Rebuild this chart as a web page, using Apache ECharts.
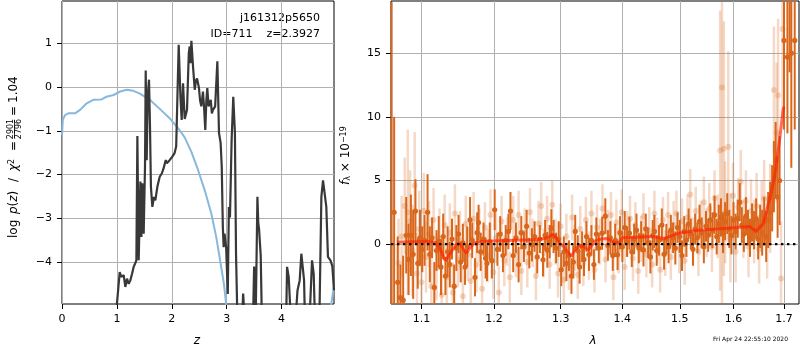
<!DOCTYPE html>
<html>
<head>
<meta charset="utf-8">
<script src="https://cdn.jsdelivr.net/npm/echarts@6/dist/echarts.min.js"></script>
<style>
html, body { margin: 0; padding: 0; background: #fff; }
#main { width: 800px; height: 350px; }
</style>
</head>
<body>
<div id="main"></div>
<script>
// left panel: redshift probability
const zTicks = [0, 1, 2, 3, 4];
const logpTicks = [-4, -3, -2, -1, 0, 1];
const pzCurve = [
  [0.97, -5.4], [1.051, -4.23], [1.08, -4.34], [1.124, -4.3], [1.154, -4.57], [1.184, -4.38],
  [1.215, -4.5], [1.245, -4.42], [1.276, -4.27], [1.306, -4.11], [1.33, -4.04], [1.355, -3.96],
  [1.373, -1.12], [1.397, -3.96], [1.428, -2.16], [1.446, -3.43], [1.464, -2.2], [1.488, -3.35],
  [1.512, -1.82], [1.525, 0.38], [1.543, -1.67], [1.561, -0.21], [1.585, 0.17], [1.603, -0.9],
  [1.62, -2.28], [1.646, -2.74], [1.676, -2.51], [1.70, -2.59], [1.737, -2.28], [1.78, -2.05],
  [1.82, -1.97], [1.85, -1.86], [1.89, -1.67], [1.91, -1.74], [1.96, -1.67], [2.01, -1.59],
  [2.05, -1.51], [2.08, -1.36], [2.107, 0.01], [2.126, 0.97], [2.157, -0.21], [2.18, -0.75],
  [2.205, 0.09], [2.235, -0.73], [2.277, -0.52], [2.31, 0.78], [2.326, 0.93], [2.34, 0.55],
  [2.357, 1.06], [2.387, 0.47], [2.418, -0.06], [2.44, 0.15], [2.46, 0.2], [2.495, -0.02],
  [2.515, -0.3], [2.538, -0.44], [2.568, -0.1], [2.59, -0.5], [2.61, -0.98], [2.63, -0.3],
  [2.647, -0.02], [2.67, -0.44], [2.71, -0.29], [2.73, -0.6], [2.75, -0.52], [2.79, -0.44],
  [2.83, 0.59], [2.86, -1.05], [2.89, -1.28], [2.91, -1.82], [2.93, -3.2], [2.945, -3.66],
  [2.96, -3.35], [2.99, -3.66], [3.02, -4.73], [3.04, -2.74], [3.06, -2.98], [3.09, -1.21],
  [3.12, -0.22], [3.15, -1.05], [3.17, -3.8], [3.2, -5.6], [3.27, -5.6], [3.30, -4.72],
  [3.34, -5.6], [3.475, -5.6], [3.50, -4.1], [3.525, -5.6], [3.56, -2.51], [3.575, -3.1],
  [3.59, -3.25], [3.62, -3.85], [3.645, -5.6], [4.08, -5.6], [4.10, -4.11], [4.13, -4.34],
  [4.18, -5.6], [4.24, -5.6], [4.29, -4.65], [4.33, -4.42], [4.36, -3.81], [4.39, -3.81],
  [4.41, -4.42], [4.43, -5.6], [4.5, -5.6], [4.555, -3.96], [4.585, -4.27], [4.615, -5.6],
  [4.685, -5.6], [4.725, -2.51], [4.755, -2.13], [4.785, -2.17], [4.815, -2.74], [4.845, -3.88],
  [4.89, -3.96], [4.925, -4.1], [4.955, -4.65]
];
const priorCurve = [
  [0, -1.1], [0.015, -0.75], [0.055, -0.64], [0.116, -0.6], [0.237, -0.6], [0.33, -0.52],
  [0.45, -0.37], [0.57, -0.29], [0.72, -0.28], [0.81, -0.22], [0.94, -0.18], [1.06, -0.1],
  [1.18, -0.06], [1.30, -0.085], [1.42, -0.15], [1.6, -0.29], [1.8, -0.52], [1.96, -0.71],
  [2.14, -0.98], [2.235, -1.15], [2.357, -1.48], [2.48, -1.9], [2.6, -2.36], [2.72, -2.89],
  [2.81, -3.43], [2.89, -4.04], [2.95, -4.5], [2.99, -4.96], [3.05, -5.8], [4.85, -5.8],
  [4.905, -4.96], [4.955, -4.55]
];

// right panel: spectrum [lambda, flux, error]
const lamTicks = [1.1, 1.2, 1.3, 1.4, 1.5, 1.6, 1.7];
const fluxTicks = [0, 5, 10, 15];
const specLight = [
  [1.070, -1.5, 3.5], [1.074, 0.6, 3.2], [1.078, 3.0, 3.8], [1.082, 2.5, 6.5], [1.085, 1.8, 4.0],
  [1.088, -0.5, 3.6], [1.091, 4.6, 4.2], [1.094, -2.3, 3.2], [1.097, 1.2, 3.0], [1.100, -3.0, 2.8],
  [1.103, 2.6, 3.0], [1.106, -1.0, 2.8], [1.110, 0.8, 2.6], [1.113, -3.3, 2.6], [1.116, 1.9, 2.5],
  [1.120, -1.8, 2.6], [1.124, 0.4, 2.4], [1.127, -4.0, 2.5], [1.131, 1.5, 2.4], [1.134, -2.6, 2.3],
  [1.138, 0.9, 2.3], [1.142, -3.8, 2.4], [1.145, 2.4, 2.3], [1.149, -1.2, 2.2], [1.152, 0.3, 2.3],
  [1.156, -4.1, 2.2], [1.160, 1.6, 2.2], [1.163, -0.8, 2.1], [1.167, -2.9, 2.2], [1.171, 2.0, 2.1],
  [1.175, -1.6, 2.2], [1.179, 0.7, 2.1], [1.183, -3.5, 2.2], [1.187, 1.3, 2.0], [1.191, -0.9, 2.1],
  [1.195, 2.3, 2.0], [1.199, -2.2, 2.1], [1.203, 0.5, 2.0], [1.207, -3.8, 2.1], [1.211, 1.8, 2.0],
  [1.215, -1.3, 2.0], [1.219, 0.2, 1.9], [1.223, -2.6, 2.0], [1.228, 1.9, 1.9], [1.232, -0.6, 2.0],
  [1.236, 2.3, 1.9], [1.240, -2.1, 1.9], [1.245, 0.9, 1.9], [1.249, -1.4, 2.0], [1.253, 2.5, 1.9],
  [1.257, 0.1, 1.9], [1.262, -2.5, 1.9], [1.266, 1.6, 1.8], [1.270, 3.0, 1.9], [1.274, -0.7, 1.9],
  [1.279, 2.0, 1.8], [1.283, -1.6, 1.9], [1.287, 3.1, 1.9], [1.292, 0.2, 1.8], [1.296, -2.3, 1.9],
  [1.300, 1.4, 1.8], [1.305, -2.8, 1.9], [1.309, 0.6, 1.8], [1.313, -1.7, 1.9], [1.318, 2.1, 1.8],
  [1.322, -0.3, 1.8], [1.327, -2.4, 1.9], [1.331, 1.2, 1.8], [1.336, -1.5, 1.8], [1.340, 1.9, 1.8],
  [1.345, -0.9, 1.9], [1.349, 2.4, 1.8], [1.354, -2.0, 1.8], [1.358, 1.3, 1.8], [1.363, 0.2, 1.8],
  [1.367, 2.8, 1.9], [1.372, -1.2, 1.8], [1.376, 0.9, 1.8], [1.381, 2.3, 1.8], [1.385, -2.6, 1.8],
  [1.390, 1.7, 1.8], [1.394, -0.5, 1.8], [1.399, 2.5, 1.8], [1.404, -1.8, 1.8], [1.408, 0.8, 1.8],
  [1.413, 2.0, 1.8], [1.418, -1.1, 1.8], [1.422, 1.5, 1.8], [1.427, -2.1, 1.8], [1.432, 0.4, 1.8],
  [1.436, 2.2, 1.8], [1.441, -0.8, 1.8], [1.446, 1.1, 1.8], [1.451, -1.6, 1.8], [1.455, 2.4, 1.8],
  [1.460, 0.3, 1.8], [1.465, -2.0, 1.8], [1.470, 1.9, 1.8], [1.474, -0.7, 1.8], [1.479, 2.3, 1.8],
  [1.484, -1.0, 1.8], [1.489, 1.5, 1.9], [1.494, 2.4, 1.8], [1.499, -0.4, 1.9], [1.504, 1.8, 1.8],
  [1.509, -1.3, 1.9], [1.514, 2.1, 1.8], [1.519, 3.9, 2.0], [1.524, 0.3, 1.8], [1.529, 2.6, 1.9],
  [1.534, -0.6, 1.9], [1.539, 1.5, 1.9], [1.544, 3.3, 2.0], [1.549, 0.9, 1.9], [1.554, 2.8, 2.0],
  [1.559, -0.2, 2.0], [1.564, 3.6, 2.2], [1.570, 1.4, 2.5], [1.5745, 7.35, 11], [1.578, 12.3, 17],
  [1.5815, 7.5, 10], [1.584, 2.5, 4], [1.590, 7.66, 7.5], [1.594, 0.5, 3.5], [1.599, 3.8, 2.6],
  [1.604, -0.6, 2.4], [1.609, 2.9, 2.3], [1.614, 4.9, 2.5], [1.619, 1.2, 2.3], [1.624, 3.4, 2.4],
  [1.629, -0.2, 2.4], [1.634, 2.6, 2.5], [1.640, 1.0, 2.5], [1.645, 3.0, 2.6], [1.650, -0.4, 2.7],
  [1.655, 2.2, 2.8], [1.660, 3.6, 3.0], [1.666, 0.5, 3.2], [1.672, 2.8, 3.5], [1.6795, 12.1, 5],
  [1.685, 8.76, 5.5], [1.688, 11.7, 6], [1.694, -2.7, 4.5], [1.697, 16.9, 7]
];
const specDark = [
  [1.0612, -6, 25], [1.0644, 2.5, 7.5], [1.069, -3, 3.6], [1.0725, -4.2, 2.6], [1.076, -4.4, 3.5],
  [1.080, 0.7, 3.0], [1.083, -1.2, 2.8], [1.086, 0.7, 3.2], [1.089, -0.8, 3.5], [1.092, 2.6, 2.5],
  [1.095, -1.5, 2.0], [1.098, 0.5, 2.2], [1.101, -0.4, 1.8], [1.104, 0.3, 2.0], [1.108, 2.5, 3.0],
  [1.111, -0.8, 2.2], [1.114, 0.5, 1.6], [1.117, -3.4, 2.0], [1.120, -0.5, 1.6], [1.123, 0.2, 2.0],
  [1.126, -1.8, 2.2], [1.129, 0.6, 1.8], [1.132, -2.5, 1.5], [1.135, -0.6, 2.0], [1.138, -1.6, 1.8],
  [1.141, 0.4, 1.6], [1.144, -3.3, 1.7], [1.147, -0.3, 1.8], [1.150, 0.8, 1.5], [1.153, -1.4, 1.6],
  [1.156, 0.1, 1.5], [1.159, -1.8, 1.4], [1.162, -0.2, 1.6], [1.166, 1.9, 1.8], [1.169, 0.3, 1.4],
  [1.173, -2.6, 1.5], [1.176, 0.9, 1.6], [1.178, 1.7, 1.4], [1.181, -0.6, 1.5], [1.185, 0.4, 1.3],
  [1.188, -1.1, 1.6], [1.190, -1.5, 1.4], [1.194, 0.2, 1.5], [1.197, -1.3, 1.4], [1.201, 2.7, 1.6],
  [1.205, -0.4, 1.3], [1.209, 0.8, 1.4], [1.213, -0.9, 1.3], [1.217, 0.3, 1.2], [1.221, 1.0, 1.4],
  [1.224, 2.6, 1.5], [1.228, -0.9, 1.3], [1.232, 0.5, 1.2], [1.236, -1.6, 1.4], [1.240, 0.9, 1.3],
  [1.244, -0.2, 1.2], [1.248, 1.4, 1.3], [1.252, -0.7, 1.2], [1.256, -0.05, 1.3], [1.260, 0.6, 1.2],
  [1.264, -1.0, 1.3], [1.268, 0.4, 1.1], [1.2728, -1.23, 1.3], [1.276, 0.7, 1.2], [1.2794, -0.45, 1.4],
  [1.283, 0.2, 1.3], [1.2856, 1.25, 1.5], [1.289, 0.6, 1.3], [1.293, -0.3, 1.2], [1.297, 0.4, 1.4],
  [1.301, -2.0, 1.3], [1.305, -0.6, 1.2], [1.309, -1.5, 1.4], [1.313, -0.9, 1.2], [1.317, -2.5, 1.4],
  [1.320, -1.4, 1.3], [1.323, 1.0, 1.3], [1.327, -0.5, 1.2], [1.330, -1.8, 1.3], [1.334, -0.2, 1.2],
  [1.337, -1.2, 1.3], [1.341, 0.6, 1.2], [1.345, -0.8, 1.3], [1.349, 0.3, 1.2], [1.353, -1.6, 1.2],
  [1.357, 0.8, 1.3], [1.361, -0.3, 1.2], [1.3665, 0.86, 1.3], [1.3717, 2.2, 1.4], [1.376, -0.1, 1.2],
  [1.380, 0.5, 1.3], [1.384, -0.9, 1.2], [1.388, 0.3, 1.3], [1.392, -0.84, 1.2], [1.396, 0.9, 1.3],
  [1.400, -0.2, 1.2], [1.404, 1.3, 1.3], [1.408, 0.2, 1.2], [1.412, 0.86, 1.3], [1.416, -0.6, 1.2],
  [1.420, 0.4, 1.2], [1.424, 1.1, 1.3], [1.428, -0.3, 1.2], [1.432, 0.6, 1.2], [1.436, -0.45, 1.3],
  [1.440, 1.2, 1.2], [1.444, 0.1, 1.2], [1.448, -1.0, 1.3], [1.452, 0.7, 1.2], [1.455, 1.0, 1.3],
  [1.459, -0.5, 1.2], [1.463, 0.3, 1.2], [1.468, 1.5, 1.3], [1.472, -0.8, 1.2], [1.476, 0.4, 1.2],
  [1.480, -0.2, 1.3], [1.484, 1.1, 1.2], [1.488, 0.5, 1.2], [1.492, -0.3, 1.3], [1.496, 1.3, 1.2],
  [1.500, 0.6, 1.3], [1.504, -0.9, 1.2], [1.508, 1.0, 1.2], [1.512, 0.3, 1.3], [1.516, 1.6, 1.2],
  [1.520, 0.8, 1.2], [1.524, -0.4, 1.3], [1.528, 1.2, 1.2], [1.532, 0.5, 1.2], [1.536, 1.8, 1.3],
  [1.540, 0.9, 1.2], [1.544, -0.2, 1.3], [1.548, 1.4, 1.2], [1.552, 0.7, 1.3], [1.556, 1.9, 1.3],
  [1.560, 1.1, 1.4], [1.564, 2.3, 1.5], [1.568, 0.6, 1.4], [1.572, 1.6, 1.5], [1.576, 2.1, 1.5],
  [1.580, 0.9, 1.6], [1.584, 1.8, 1.5], [1.588, 2.4, 1.6], [1.592, 1.2, 1.5], [1.596, 0.7, 1.5],
  [1.600, 1.9, 1.4], [1.604, 1.0, 1.4], [1.608, 2.0, 1.5], [1.612, 3.3, 1.5], [1.616, 1.5, 1.4],
  [1.620, 0.8, 1.4], [1.624, 2.2, 1.5], [1.628, 1.3, 1.4], [1.632, 0.5, 1.5], [1.636, 1.7, 1.5],
  [1.640, 1.1, 1.5], [1.644, 2.0, 1.6], [1.648, 0.4, 1.6], [1.652, 1.4, 1.7], [1.656, 0.9, 1.8],
  [1.660, 1.8, 1.9], [1.664, 0.6, 2.0], [1.668, 1.9, 2.2], [1.672, 2.5, 2.4], [1.676, 3.6, 2.6],
  [1.6795, 5.3, 2.8], [1.683, 6.6, 3.0], [1.687, 3.7, 3.2], [1.691, 5.0, 3.5], [1.700, 16, 7],
  [1.707, 14.7, 6], [1.7115, 21, 7.5], [1.715, 15, 9], [1.722, 16, 7]
];
const modelCurve = [
  [1.068, 0.15], [1.09, 0.18], [1.11, 0.2], [1.118, 0.15], [1.125, -0.4], [1.132, -1.3],
  [1.14, -0.6], [1.147, 0.0], [1.152, 0.05], [1.157, -0.4], [1.161, -0.7], [1.166, -0.3],
  [1.172, 0.1], [1.18, 0.2], [1.2, 0.25], [1.23, 0.3], [1.26, 0.35], [1.275, 0.45],
  [1.282, 0.55], [1.287, 0.8], [1.292, 0.6], [1.298, 0.1], [1.305, -0.2], [1.311, -0.6],
  [1.317, -0.95], [1.323, -0.4], [1.33, -0.1], [1.337, -0.2], [1.343, -0.45], [1.35, -0.1],
  [1.356, 0.3], [1.365, 0.4], [1.375, 0.45], [1.383, 0.2], [1.39, 0.1], [1.396, 0.15],
  [1.40, 0.5], [1.42, 0.55], [1.45, 0.6], [1.473, 0.45], [1.49, 0.75], [1.498, 0.85],
  [1.533, 1.1], [1.588, 1.25], [1.632, 1.38], [1.644, 1.0], [1.658, 1.6], [1.6705, 3.5],
  [1.681, 5.3], [1.691, 8.2], [1.698, 10.5], [1.700, 10.8]
];
const lamRange = [1.0604, 1.7309];

const FONT = 'DejaVu Sans';
const GRIDLINE = '#b0b0b0';
const ORANGE = '#d9661a';
const ORANGE_LIGHT = 'rgba(217,102,26,0.25)';

function minusLabel(v) {
  return v < 0 ? '\u2212' + Math.abs(v) : String(v);
}

function errorBars(color, barWidth, radius) {
  return function (params, api) {
    const cs = params.coordSys;
    const x = api.value(0), y = api.value(1), e = api.value(2);
    const hi = api.coord([x, y + e]);
    const lo = api.coord([x, y - e]);
    const c = api.coord([x, y]);
    const top = Math.max(hi[1], cs.y);
    const bot = Math.min(lo[1], cs.y + cs.height);
    const kids = [];
    if (c[0] < cs.x || c[0] > cs.x + cs.width) {
      return { type: 'group', children: kids };
    }
    if (bot > top) {
      kids.push({ type: 'line', shape: { x1: c[0], y1: top, x2: c[0], y2: bot },
        style: { stroke: color, lineWidth: barWidth } });
    }
    if (c[1] >= cs.y && c[1] <= cs.y + cs.height) {
      kids.push({ type: 'circle', shape: { cx: c[0], cy: c[1], r: radius }, style: { fill: color } });
    }
    return { type: 'group', children: kids };
  };
}

function axisCommon(ticks, fmt) {
  return {
    axisLine: { show: false, onZero: false },
    axisTick: { show: true, length: 5, customValues: ticks, lineStyle: { color: '#000', width: 1 } },
    axisLabel: { customValues: ticks, formatter: fmt, fontSize: 11, color: '#000', fontFamily: FONT },
    splitLine: { show: true, lineStyle: { color: GRIDLINE, width: 1 } }
  };
}

const lnTicks = lamTicks.map(Math.log);

const xz = Object.assign({ gridIndex: 0, type: 'value', min: 0, max: 4.955 }, axisCommon(zTicks, v => String(v)));
xz.axisLabel.margin = 10;
const ylog = Object.assign({ gridIndex: 0, type: 'value', min: -4.96, max: 1.97 }, axisCommon(logpTicks, minusLabel));
ylog.axisLabel.margin = 10;
const xlam = Object.assign({ gridIndex: 1, type: 'value', min: Math.log(lamRange[0]), max: Math.log(lamRange[1]) },
  axisCommon(lnTicks, v => Math.exp(v).toFixed(1)));
xlam.axisLabel.margin = 10;
const yflux = Object.assign({ gridIndex: 1, type: 'value', min: -4.7, max: 19.1 }, axisCommon(fluxTicks, v => String(v)));
yflux.axisLabel.margin = 10;

const richMath = {
  i: { fontStyle: 'italic', fontSize: 12, fontFamily: FONT, fill: '#000' },
  sup: { fontSize: 8, fontFamily: FONT, fill: '#000', verticalAlign: 'top' },
  sub: { fontSize: 8, fontFamily: FONT, fill: '#000', verticalAlign: 'bottom' }
};

function labelPiece(x, text, size) {
  return { type: 'text', x: x, y: 0, style: { text: text, rich: richMath, align: 'left', verticalAlign: 'middle',
    fontSize: size || 12, fontFamily: FONT, fill: '#000' } };
}

const chart = echarts.init(document.getElementById('main'));
chart.setOption({
  animation: false,
  backgroundColor: '#fff',
  grid: [
    { left: 62, top: 1, width: 272, height: 303, show: true, borderColor: '#000', borderWidth: 1 },
    { left: 391, top: 1, width: 408, height: 303, show: true, borderColor: '#000', borderWidth: 1 }
  ],
  xAxis: [xz, xlam],
  yAxis: [ylog, yflux],
  series: [
    {
      type: 'line', xAxisIndex: 0, yAxisIndex: 0, data: priorCurve, showSymbol: false, clip: true,
      lineStyle: { color: '#88b8dc', width: 2 }, z: 2
    },
    {
      type: 'line', xAxisIndex: 0, yAxisIndex: 0, data: pzCurve, showSymbol: false, clip: true,
      lineStyle: { color: '#383838', width: 2.2 }, z: 3
    },
    {
      type: 'custom', xAxisIndex: 1, yAxisIndex: 1, renderItem: errorBars(ORANGE_LIGHT, 2.5, 3),
      data: specLight.map(d => [Math.log(d[0]), d[1], d[2]]), encode: { x: 0, y: 1 }, z: 2
    },
    {
      type: 'custom', xAxisIndex: 1, yAxisIndex: 1, renderItem: errorBars(ORANGE, 2, 2.6),
      data: specDark.map(d => [Math.log(d[0]), d[1], d[2]]), encode: { x: 0, y: 1 }, z: 3
    },
    {
      type: 'line', xAxisIndex: 1, yAxisIndex: 1, showSymbol: false, clip: true,
      data: modelCurve.map(d => [Math.log(d[0]), d[1]]),
      lineStyle: { color: 'rgba(255,30,0,0.65)', width: 3 }, z: 4
    },
    {
      type: 'line', xAxisIndex: 1, yAxisIndex: 1, showSymbol: false,
      data: lamRange.map(l => [Math.log(l), 0]),
      lineStyle: { color: '#000', width: 2.4, type: [2.4, 3.6] }, z: 5
    }
  ],
  graphic: [
    { type: 'text', x: 320, y: 24, style: { text: 'j161312p5650', align: 'right', verticalAlign: 'bottom',
      fontSize: 11, fontFamily: FONT, fill: '#000' } },
    { type: 'text', x: 320, y: 40, style: { text: 'ID=711    z=2.3927', align: 'right', verticalAlign: 'bottom',
      fontSize: 11, fontFamily: FONT, fill: '#000' } },
    { type: 'text', x: 197, y: 341, style: { text: 'z', align: 'center', verticalAlign: 'middle',
      fontSize: 12, fontStyle: 'italic', fontFamily: FONT, fill: '#000' } },
    { type: 'text', x: 593, y: 341, style: { text: 'λ', align: 'center', verticalAlign: 'middle',
      fontSize: 12, fontStyle: 'italic', fontFamily: FONT, fill: '#000' } },
    { type: 'text', x: 788, y: 339, style: { text: 'Fri Apr 24 22:55:10 2020', align: 'right', verticalAlign: 'middle',
      fontSize: 6, fontFamily: FONT, fill: '#000' } },
    {
      type: 'group', x: 14, y: 238, rotation: Math.PI / 2,
      children: [
        labelPiece(0, 'log'),
        labelPiece(24, '{i|p}({i|z})'),
        labelPiece(56, '/'),
        labelPiece(67, '{i|χ}{sup|2}'),
        labelPiece(87, '='),
        { type: 'text', x: 109, y: -3.4, style: { text: '2901', align: 'center', verticalAlign: 'middle',
          fontSize: 8, fontFamily: FONT, fill: '#000' } },
        { type: 'rect', shape: { x: 100, y: 0.2, width: 18, height: 0.8 }, style: { fill: '#000' } },
        { type: 'text', x: 109, y: 4.8, style: { text: '2796', align: 'center', verticalAlign: 'middle',
          fontSize: 8, fontFamily: FONT, fill: '#000' } },
        labelPiece(122, '='),
        labelPiece(135, '1.04')
      ]
    },
    {
      type: 'group', x: 346, y: 185, rotation: Math.PI / 2,
      children: [
        { type: 'text', x: 0, y: 0, style: { text: '{i|f}{sub|λ} × 10{sup|\u221219}', rich: richMath,
          align: 'left', verticalAlign: 'middle', fontSize: 12, fontFamily: FONT, fill: '#000' } }
      ]
    }
  ]
});
window.onresize = function () {
  chart.resize();
};
</script>
</body>
</html>
